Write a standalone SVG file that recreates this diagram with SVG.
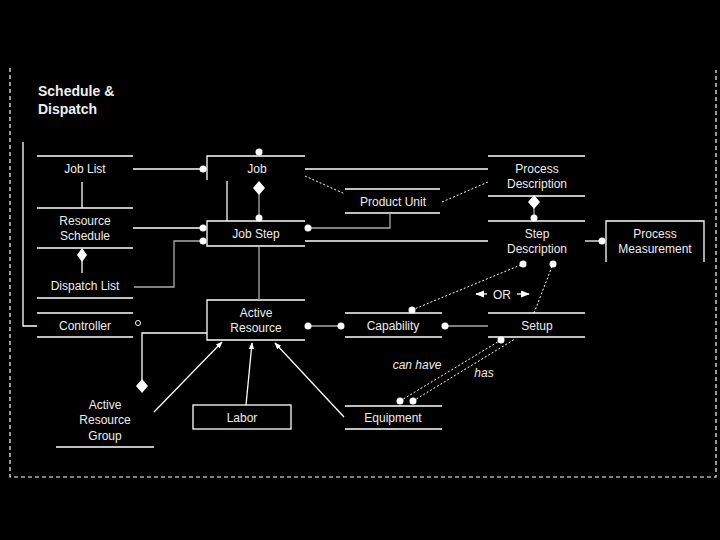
<svg xmlns="http://www.w3.org/2000/svg" width="720" height="540" viewBox="0 0 720 540">
<style>
text{font-family:"Liberation Sans",Arial,sans-serif;font-size:12px;fill:#eee;text-anchor:middle}
.t{font-size:14px;font-weight:bold;text-anchor:start}
.i{font-style:italic}
.w{stroke:#fff;stroke-width:1.3;fill:none}
.g{stroke:#aaa;stroke-width:1.3;fill:none}
.d{stroke:#fff;stroke-width:1;stroke-dasharray:2,2;fill:none}
.dot{fill:#fff}
</style>
<defs>
<marker id="ah" viewBox="0 0 10 10" refX="9" refY="5" markerWidth="7" markerHeight="7" markerUnits="userSpaceOnUse" orient="auto"><path d="M0,1 L10,5 L0,9 z" fill="#fff"/></marker>
<marker id="ah2" viewBox="0 0 10 10" refX="9" refY="5" markerWidth="9" markerHeight="9" markerUnits="userSpaceOnUse" orient="auto"><path d="M0,1 L10,5 L0,9 z" fill="#fff"/></marker>
</defs>
<rect width="720" height="540" fill="#000"/>
<path d="M10,68 V477 H716 V70" stroke="#fff" stroke-width="1.2" stroke-dasharray="4,3" fill="none"/>
<g id="title"><text class="t" x="38" y="96">Schedule &amp;</text><text class="t" x="38" y="114">Dispatch</text></g>

<g id="joblist"><path class="w" d="M37,156 H133"/><text x="85" y="173">Job List</text></g>
<g id="resourceschedule"><path class="w" d="M37,208 H133 M37,248 H133"/><text x="85" y="225">Resource</text><text x="85" y="240">Schedule</text></g>
<g id="dispatchlist"><path class="w" d="M37,298 H133"/><text x="85" y="290">Dispatch List</text></g>
<g id="controller"><path class="w" d="M37,313 H133 M37,337 H133"/><text x="85" y="330">Controller</text><circle cx="138" cy="323" r="2.5" stroke="#fff" stroke-width="1" fill="none"/></g>
<g id="activeresourcegroup"><path class="w" d="M56,447 H154"/><text x="105" y="409">Active</text><text x="105" y="424">Resource</text><text x="105" y="440">Group</text></g>
<g id="job"><path class="w" d="M207,180 V156 H305"/><text x="257" y="173">Job</text></g>
<g id="jobstep"><path class="w" d="M305,221 H207 V246 H305"/><text x="256" y="238">Job Step</text></g>
<g id="productunit"><path class="w" d="M345,189 H440 M345,213 H440"/><text x="393" y="206">Product Unit</text></g>
<g id="processdescription"><path class="w" d="M488,156 H585 M488,196 H585"/><text x="537" y="173">Process</text><text x="537" y="188">Description</text></g>
<g id="stepdescription"><path class="w" d="M488,221 H585"/><text x="537" y="238">Step</text><text x="537" y="253">Description</text></g>
<g id="processmeasurement"><path class="w" d="M606,262 V221 H704 V262"/><text x="655" y="238">Process</text><text x="655" y="253">Measurement</text></g>
<g id="activeresource"><path class="w" d="M305,300 H207 V340 H305"/><text x="256" y="317">Active</text><text x="256" y="332">Resource</text></g>
<g id="capability"><path class="w" d="M345,313 H442 M345,337 H442"/><text x="393" y="330">Capability</text></g>
<g id="setup"><path class="w" d="M488,313 H585 M488,337 H585"/><text x="537" y="330">Setup</text></g>
<g id="labor"><rect class="w" x="193" y="405" width="98" height="24"/><text x="242" y="422">Labor</text></g>
<g id="equipment"><path class="w" d="M345,406 H442 M345,429 H442"/><text x="393" y="422">Equipment</text></g>

<g id="connectors">
<path class="w" d="M23,142 V326 H37"/>
<path class="w" d="M133,169 H203"/><circle class="dot" cx="203" cy="169" r="3.5"/>
<path class="w" d="M82,182 V208"/>
<path class="w" d="M133,228 H203"/><circle class="dot" cx="203" cy="228" r="3.5"/>
<path class="w" d="M82,260 V273"/><path class="dot" d="M82,248 L87,255 L82,262 L77,255 z"/>
<path class="g" d="M134,287 H174 V241 H203"/><circle class="dot" cx="203" cy="241" r="3.5"/>
<circle class="dot" cx="259" cy="152" r="3.5"/>
<path class="g" d="M259,194 V218"/><path class="dot" d="M259,181 L265,188 L259,195 L253,188 z"/><circle class="dot" cx="259" cy="218" r="3.5"/>
<path class="w" d="M227,181 V221"/>
<path class="w" d="M305,169 H488"/>
<path class="d" d="M305,176 L345,194"/>
<path class="d" d="M442,202 L488,182"/>
<path class="g" d="M390,213 V228 H308"/><circle class="dot" cx="308" cy="228" r="3.5"/>
<path class="w" d="M305,241 H488"/>
<path class="g" d="M259,247 V300"/>
<path class="g" d="M534,208 V218"/><path class="dot" d="M534,195 L540,202 L534,209 L528,202 z"/><circle class="dot" cx="534" cy="218" r="3.5"/>
<path class="w" d="M585,241 H602"/><circle class="dot" cx="602" cy="241" r="3.5"/>
<path class="g" d="M308,326 H341"/><circle class="dot" cx="308" cy="326" r="3.5"/><circle class="dot" cx="341" cy="326" r="3.5"/>
<path class="g" d="M445,326 H488"/><circle class="dot" cx="445" cy="326" r="3.5"/>
<path class="w" d="M207,333 H142 V380"/><path class="dot" d="M142,379 L148,386 L142,393 L136,386 z"/>
<path class="w" d="M154,412 L222,342" marker-end="url(#ah)" stroke-width="1"/>
<path class="w" d="M246,405 L252,343" marker-end="url(#ah)" stroke-width="1"/>
<path class="w" d="M344,417 L275,343" marker-end="url(#ah)" stroke-width="1"/>
<path class="d" d="M412,310 L523,264"/><circle class="dot" cx="412" cy="310" r="3.5"/><circle class="dot" cx="523" cy="264" r="3.5"/>
<path class="d" d="M534,313 L553,264"/><circle class="dot" cx="553" cy="264" r="3.5"/>
<path class="w" d="M487,294 H476" marker-end="url(#ah2)"/>
<text x="502" y="299">OR</text>
<path class="w" d="M517,294 H529" marker-end="url(#ah2)"/>
<path class="d" d="M400,401 L501,340"/><circle class="dot" cx="400" cy="401" r="3.5"/><circle class="dot" cx="501" cy="340" r="3.5"/>
<path class="d" d="M413,401 L515,339"/><circle class="dot" cx="413" cy="401" r="3.5"/>
<text class="i" x="417" y="369">can have</text>
<text class="i" x="484" y="377">has</text>
</g>
</svg>
